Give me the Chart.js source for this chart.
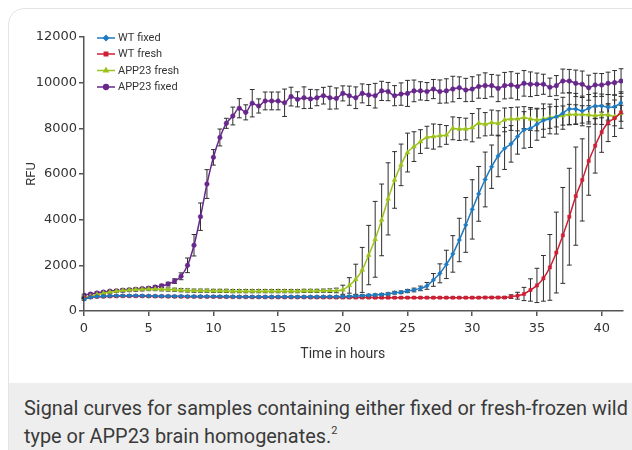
<!DOCTYPE html>
<html>
<head>
<meta charset="utf-8">
<script src="https://cdn.jsdelivr.net/npm/chart.js@4.4.0/dist/chart.umd.min.js"></script>
<style>
  html, body { margin: 0; padding: 0; background: #fff; }
  body { width: 632px; height: 450px; position: relative; overflow: hidden; }
  .card {
    position: absolute; left: 8px; top: 8px; width: 640px; height: 462px;
    border: 1.5px solid #e4e4e4; border-radius: 16px; background: #fff;
    overflow: hidden; box-sizing: border-box;
  }
  .caption {
    position: absolute; left: 0; right: 0; top: 374px; bottom: 0;
    background: #eeeeee; padding: 12px 0 0 15px; white-space: nowrap;
    font-family: Roboto, sans-serif; font-size: 19.9px; line-height: 28px; color: #3a3a3a;
  }
  .caption sup { font-size: 11px; line-height: 0; vertical-align: 9px; }
  #chart { position: absolute; left: 0; top: 0; z-index: 1; }
</style>
</head>
<body>
<div class="card">
  <div class="caption">Signal curves for samples containing either fixed or fresh-frozen wild<br>type or APP23 brain homogenates.<sup>2</sup></div>
</div>
<canvas id="chart" width="632" height="383"></canvas>
<script>
// time in hours, one reading every half hour
const times = [0,0.5,1,1.5,2,2.5,3,3.5,4,4.5,5,5.5,6,6.5,7,7.5,8,8.5,9,9.5,
  10,10.5,11,11.5,12,12.5,13,13.5,14,14.5,15,15.5,16,16.5,17,17.5,18,18.5,19,19.5,
  20,20.5,21,21.5,22,22.5,23,23.5,24,24.5,25,25.5,26,26.5,27,27.5,28,28.5,29,29.5,
  30,30.5,31,31.5,32,32.5,33,33.5,34,34.5,35,35.5,36,36.5,37,37.5,38,38.5,39,39.5,
  40,40.5,41,41.5]

const seriesNames = ['WT fixed', 'WT fresh', 'APP23 fresh', 'APP23 fixed']

const wtFixed = [510,600,630,650,660,665,670,670,670,665,
  660,655,650,650,645,645,640,640,640,640,
  635,635,630,630,625,625,625,620,620,620,
  620,620,620,620,620,620,620,625,625,625,
  630,640,655,670,685,700,720,745,800,820,
  875,920,990,1100,1360,1650,2040,2500,3110,3770,
  4450,5130,5760,6320,6790,7120,7320,7640,7930,8000,
  8180,8340,8410,8510,8660,8850,8850,8760,8880,8980,
  8980,8920,8950,9120]
const wtFixedErr = [40,40,40,40,40,40,40,40,40,40,
  40,40,40,40,40,40,40,40,40,40,
  40,40,40,40,40,40,40,40,40,40,
  40,40,40,40,40,40,40,40,40,40,
  40,40,45,45,50,50,50,55,60,60,
  70,80,100,150,280,415,620,800,950,1200,
  1300,1200,1200,950,910,920,800,770,800,840,
  700,730,650,760,700,700,680,650,600,560,
  520,560,500,480]

const wtFresh = [560,600,620,630,640,645,650,650,650,650,
  645,640,640,635,630,630,625,625,620,620,
  620,615,615,610,610,610,605,605,605,600,
  600,600,600,600,600,595,595,595,595,590,
  590,590,590,590,590,585,585,585,585,585,
  585,585,585,585,585,585,585,585,585,585,
  585,585,590,590,590,590,630,670,745,920,
  1120,1430,1910,2560,3310,4130,5030,5740,6570,7240,
  7830,8250,8440,8700]
const wtFreshErr = [30,30,30,30,30,30,30,30,30,30,
  30,30,30,30,30,30,30,30,30,30,
  30,30,30,30,30,30,30,30,30,30,
  30,30,30,30,30,30,30,30,30,30,
  30,30,30,30,30,30,30,30,30,30,
  30,30,30,30,30,30,30,30,30,30,
  30,30,30,30,30,40,80,150,290,490,
  750,1000,1440,1770,2100,2120,2150,1800,1500,1200,
  880,830,800,700]

const app23Fresh = [580,650,720,780,830,870,900,920,940,950,
  960,960,950,940,930,910,900,890,890,890,
  880,880,880,870,870,870,870,870,870,870,
  870,870,870,870,880,880,880,890,890,900,
  930,1120,1390,1800,2450,3140,3990,4910,5740,6400,
  6940,7200,7420,7610,7640,7680,7710,8000,7970,7970,
  8030,8220,8180,8250,8220,8370,8410,8410,8470,8410,
  8370,8410,8470,8510,8560,8610,8610,8610,8590,8560,
  8590,8590,8510,8660]
const app23FreshErr = [40,40,40,50,60,60,70,70,70,70,
  70,70,70,70,70,70,70,70,70,70,
  70,70,70,70,70,70,70,70,70,70,
  70,70,70,70,70,70,70,70,80,100,
  200,340,660,985,1300,1660,1570,1580,1240,910,
  850,650,520,480,550,490,410,500,500,475,
  620,640,510,550,550,520,500,520,480,500,
  480,450,470,450,420,440,420,380,400,380,
  420,430,400,350]

const app23Fixed = [700,740,790,830,870,890,910,930,950,980,
  1000,1050,1100,1180,1310,1520,2000,2880,4130,5560,
  6730,7600,8220,8540,8880,8700,9100,8980,9200,9200,
  9200,9120,9390,9270,9340,9290,9340,9430,9340,9310,
  9530,9430,9340,9530,9460,9430,9640,9610,9430,9500,
  9530,9640,9640,9610,9720,9610,9640,9720,9780,9680,
  9720,9830,9870,9870,9750,9870,9900,9830,9970,9930,
  9930,9930,9800,9870,10070,10070,9970,9930,9780,9900,
  9900,9970,10000,10070]
const app23FixedErr = [40,40,40,40,40,50,50,50,50,50,
  60,60,70,80,100,150,320,470,600,630,
  340,370,220,390,420,330,600,310,390,390,
  390,600,410,330,475,415,350,365,500,460,
  330,420,475,415,460,540,420,400,440,490,
  570,475,400,395,420,510,530,560,475,510,
  540,510,560,490,580,580,580,580,560,540,
  490,440,400,440,525,510,580,580,550,510,
  500,490,530,540]

const yTicks = [0, 2000, 4000, 6000, 8000, 10000, 12000]
const xTicks = [0, 5, 10, 15, 20, 25, 30, 35, 40]

const colors = ['#1e7bc2', '#cf1f34', '#9cc31d', '#67278b']
const markers = ['rectRot', 'rect', 'triangle', 'circle']
const values = [wtFixed, wtFresh, app23Fresh, app23Fixed]
const errors = [wtFixedErr, wtFreshErr, app23FreshErr, app23FixedErr]

const axisColor = '#555'
const textColor = '#333'

// error bars drawn under the curves
const errorBars = {
  id: 'errorBars',
  beforeDatasetsDraw(chart) {
    const ctx = chart.ctx
    const xs = chart.scales.x, ys = chart.scales.y
    ctx.save()
    ctx.strokeStyle = '#2e2e2e'
    ctx.lineWidth = 1
    for (let s = values.length - 1; s >= 0; s--) {
      values[s].forEach((v, i) => {
        const px = xs.getPixelForValue(times[i])
        const top = ys.getPixelForValue(v + errors[s][i])
        const bot = ys.getPixelForValue(v - errors[s][i])
        ctx.beginPath()
        ctx.moveTo(px, top); ctx.lineTo(px, bot)
        ctx.moveTo(px - 2.4, top); ctx.lineTo(px + 2.4, top)
        ctx.moveTo(px - 2.4, bot); ctx.lineTo(px + 2.4, bot)
        ctx.stroke()
      })
    }
    ctx.restore()
  }
}

// legend inside the plot and the x title
const extras = {
  id: 'extras',
  afterDraw(chart) {
    const ctx = chart.ctx
    const rows = [38, 54, 70.5, 87]
    ctx.save()
    ctx.font = '11px Roboto'
    ctx.textBaseline = 'middle'
    seriesNames.forEach((name, i) => {
      ctx.strokeStyle = colors[i]
      ctx.fillStyle = colors[i]
      ctx.lineWidth = 1.5
      ctx.beginPath()
      ctx.moveTo(97, rows[i]); ctx.lineTo(115, rows[i])
      ctx.stroke()
      Chart.helpers.drawPoint(ctx, {pointStyle: markers[i], radius: 2.4, rotation: 0, borderWidth: 0.5}, 106, rows[i])
      ctx.fillStyle = textColor
      ctx.fillText(name, 118, rows[i] + 0.5)
    })
    ctx.font = '14px Roboto'
    ctx.textAlign = 'center'
    ctx.fillText('Time in hours', chart.scales.x.getPixelForValue(20), 354)
    ctx.restore()
  }
}

const datasets = seriesNames.map((name, i) => ({
  label: name,
  data: times.map((t, j) => ({x: t, y: values[i][j]})),
  borderColor: colors[i],
  backgroundColor: colors[i],
  borderWidth: 1.5,
  pointStyle: markers[i],
  pointRadius: i == 2 ? 2.8 : 2.3,
  pointBorderWidth: 0.5,
  cubicInterpolationMode: 'monotone'
}))

const tickFont = {family: 'DejaVu Sans', size: 13}

new Chart(document.getElementById('chart'), {
  type: 'line',
  data: {datasets: datasets},
  options: {
    responsive: false,
    animation: false,
    devicePixelRatio: 1,
    layout: {padding: {top: 37, right: 9, left: 0, bottom: 0}},
    plugins: {legend: {display: false}, tooltip: {enabled: false}},
    scales: {
      x: {
        type: 'linear', min: 0, max: 41.65,
        afterBuildTicks(s) { s.ticks = xTicks.map(v => ({value: v})) },
        afterFit(s) { s.height = 72 },
        ticks: {font: tickFont, color: textColor, padding: 5, maxRotation: 0},
        grid: {drawOnChartArea: false, tickLength: 5, color: axisColor, lineWidth: 1.5},
        border: {color: axisColor, width: 1.5}
      },
      y: {
        min: 0, max: 12000,
        afterBuildTicks(s) { s.ticks = yTicks.map(v => ({value: v})) },
        afterFit(s) { s.width = 84 },
        ticks: {font: tickFont, color: textColor, padding: 2, callback: v => String(v)},
        grid: {drawOnChartArea: false, tickLength: 5, color: axisColor, lineWidth: 1.5},
        border: {color: axisColor, width: 1.5},
        title: {display: true, text: 'RFU', color: textColor, font: {family: 'Roboto', size: 13}, padding: {top: 24, bottom: 0}}
      }
    }
  },
  plugins: [errorBars, extras]
})
</script>
</body>
</html>
